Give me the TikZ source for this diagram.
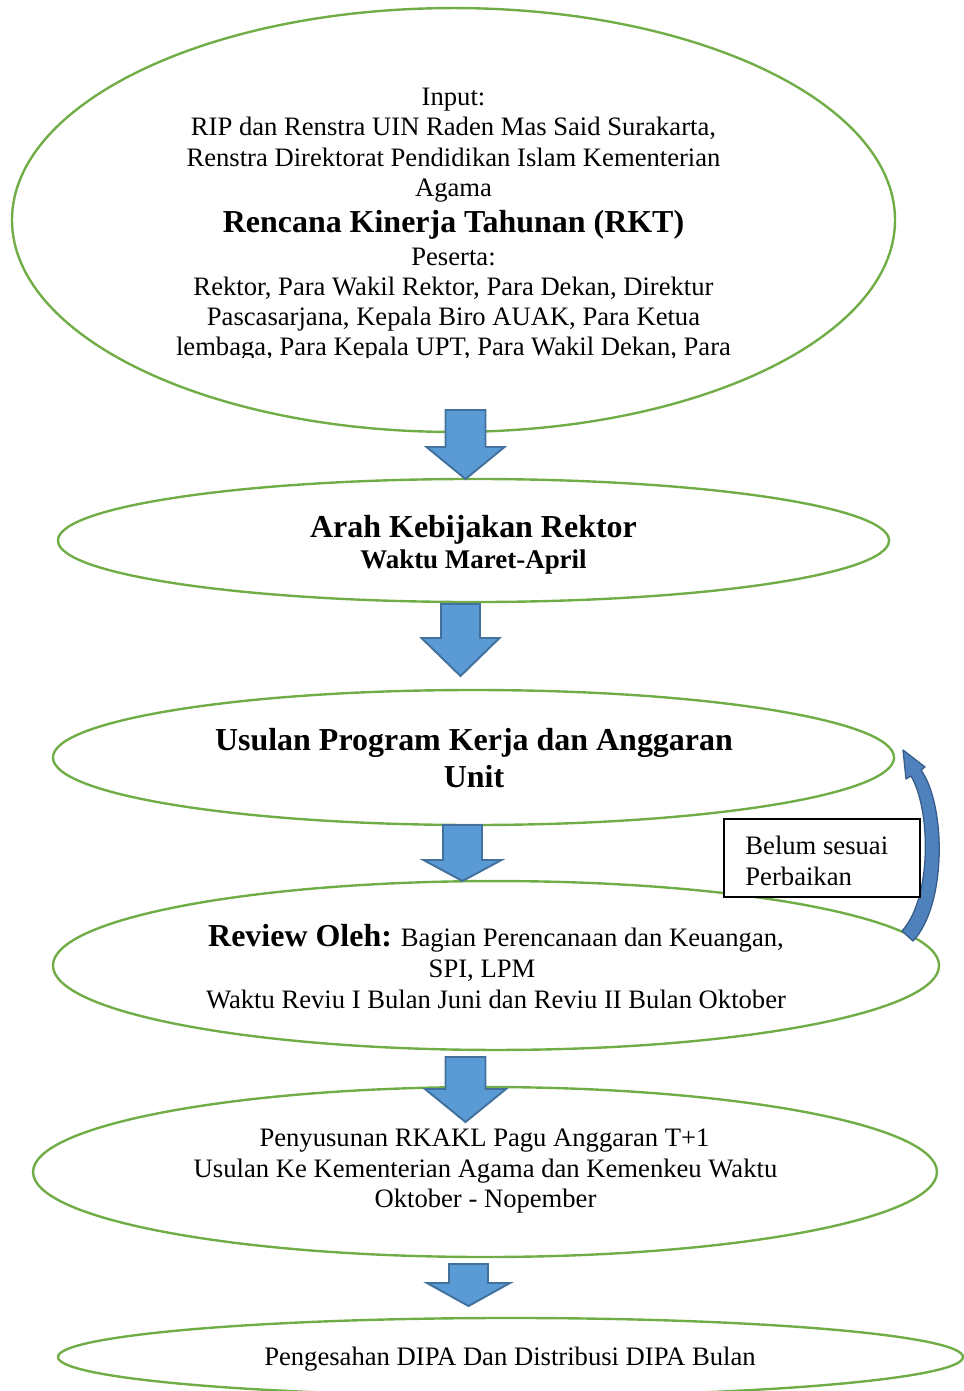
\documentclass[tikz,border=0pt]{standalone}
\usepackage{fontspec}
\setmainfont{Liberation Serif}
\usetikzlibrary{shapes.geometric}
\definecolor{ovalgreen}{HTML}{70AD47}
\definecolor{arrowfill}{HTML}{5B9BD5}
\definecolor{arrowedge}{HTML}{41719C}
\definecolor{bendfill}{HTML}{4F81BD}
\definecolor{bendedge}{HTML}{385D8A}
% downward block arrow: centre x, top, head base, tip, shaft half width, head half width
\newcommand{\blockdown}[6]{%
  \draw[blockarrow] (#1-#5,#2) -- (#1+#5,#2) -- (#1+#5,#3) -- (#1+#6,#3)
    -- (#1,#4) -- (#1-#6,#3) -- (#1-#5,#3) -- cycle;}
\newcommand{\regsize}{\fontsize{12.25}{14.3}\selectfont}
\newcommand{\bigsize}{\fontsize{14.7}{17}\selectfont}
\begin{document}
\begin{tikzpicture}[x=0.46pt,y=-0.46pt,
  oval/.style={ellipse, draw=ovalgreen, line width=1.1pt, inner sep=0pt},
  blockarrow/.style={fill=arrowfill, draw=arrowedge, line width=0.9pt, line join=miter},
  txt/.style={anchor=base, inner sep=0pt, font=\regsize},
  btxt/.style={anchor=base, inner sep=0pt, font=\bigsize\bfseries},
  bstxt/.style={anchor=base, inner sep=0pt, font=\fontsize{12.4}{14.3}\selectfont\bfseries}]
\useasboundingbox (0,0) rectangle (964,1391);
\clip (0,0) rectangle (964,1391);

% the six stages
\node[oval, minimum width=406.2pt, minimum height=195.0pt] (rkt) at (453.5,220) {};
\node[oval, minimum width=382.3pt, minimum height=56.6pt] (arah) at (473.5,540.5) {};
\node[oval, minimum width=386.9pt, minimum height=62.1pt] (usulan) at (473.5,757.5) {};
\node[oval, minimum width=407.6pt, minimum height=77.7pt] (review) at (496,965.5) {};
\node[oval, minimum width=415.8pt, minimum height=78.2pt] (rkakl) at (485,1172) {};
\node[oval, minimum width=416.3pt, minimum height=35.9pt] (dipa) at (510.5,1357) {};

% text of the first stage (overflowing last line cut off)
\node[txt] (t1) at (453.5,105) {Input:};
\node[txt] (t2) at (453.5,135) {RIP dan Renstra UIN Raden Mas Said Surakarta,};
\node[txt] (t3) at (453.5,166) {Renstra Direktorat Pendidikan Islam Kementerian};
\node[txt] (t4) at (453.5,196) {Agama};
\node[btxt] (t5) at (453.5,232) {Rencana Kinerja Tahunan (RKT)};
\node[txt] (t6) at (453.5,265) {Peserta:};
\node[txt] (t7) at (453.5,295) {Rektor, Para Wakil Rektor, Para Dekan, Direktur};
\node[txt] (t8) at (453.5,325) {Pascasarjana, Kepala Biro AUAK, Para Ketua};
\begin{scope}
\clip (0,0) rectangle (964,357.5);
\node[txt] (t9) at (453.5,355) {lembaga, Para Kepala UPT, Para Wakil Dekan, Para};
\end{scope}

% second stage
\node[btxt] (a1) at (473.5,537) {Arah Kebijakan Rektor};
\node[bstxt] (a2) at (473.5,568) {Waktu Maret-April};

% third stage
\node[btxt] (u1) at (474,750) {Usulan Program Kerja dan Anggaran};
\node[btxt] (u2) at (474,787) {Unit};

% fourth stage
\node[anchor=base, inner sep=0pt] (r1) at (496,946)
  {\bigsize\bfseries Review Oleh:\regsize\mdseries{} Bagian Perencanaan dan Keuangan,};
\node[txt] (r2) at (482,977) {SPI, LPM};
\node[txt] (r3) at (496,1008) {Waktu Reviu I Bulan Juni dan Reviu II Bulan Oktober};

% fifth stage
\node[txt] (k1) at (484.5,1146) {Penyusunan RKAKL Pagu Anggaran T+1};
\node[txt] (k2) at (485.5,1177) {Usulan Ke Kementerian Agama dan Kemenkeu Waktu};
\node[txt] (k3) at (485.5,1207) {Oktober - Nopember};

% last stage
\node[txt] (d1) at (510,1365) {Pengesahan DIPA Dan Distribusi DIPA Bulan};

% block arrows between the stages
\blockdown{465.5}{410}{447}{479}{20}{39}
\blockdown{460.5}{604}{638}{676}{19.5}{39}
\blockdown{462.5}{825}{860}{881}{19.5}{39}
\blockdown{465.5}{1057}{1089}{1122}{20}{40.5}
\blockdown{468.5}{1264}{1283}{1306}{19.5}{41.5}

% correction loop back to the proposal stage
\filldraw[fill=bendfill, draw=bendedge, line width=0.6pt, line join=round]
  (902,931) -- (913,941) .. controls (947,905) and (946,805) .. (921,770)
  -- (925,767) -- (903,750) -- (906,779) -- (911,776)
  .. controls (931,810) and (932,898) .. (902,931) -- cycle;

\node[draw=black, fill=white, line width=0.6pt, inner sep=0pt,
  minimum width=90.2pt, minimum height=35.9pt] (note) at (822,858) {};
\node[anchor=west, align=left, inner sep=0pt, font=\fontsize{12.25}{14.3}\selectfont]
  (notetext) at (745,861) {Belum sesuai\\Perbaikan};
\end{tikzpicture}
\end{document}
